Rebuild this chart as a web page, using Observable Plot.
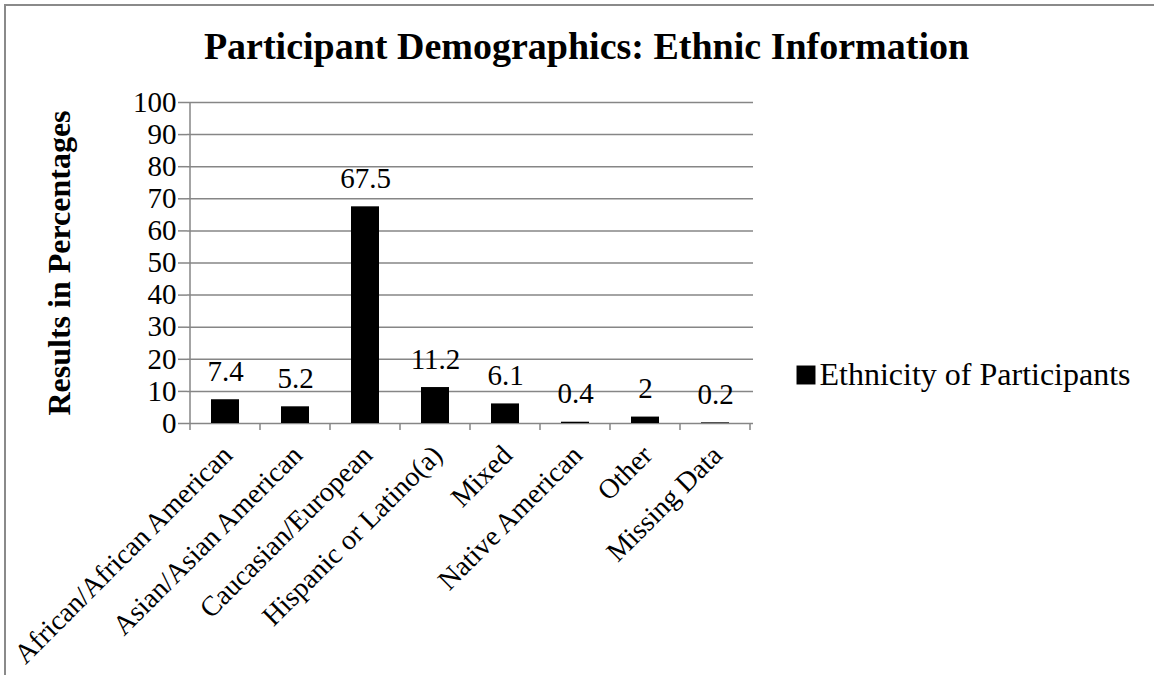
<!DOCTYPE html>
<html>
<head>
<meta charset="utf-8">
<script src="https://cdn.jsdelivr.net/npm/d3@7"></script>
<script src="https://cdn.jsdelivr.net/npm/@observablehq/plot@0.6"></script>
<style>
  html, body { margin: 0; padding: 0; background: #fff; }
  #chart { position: relative; width: 1154px; height: 675px; overflow: hidden; }
  #chart svg { position: absolute; left: 0; top: 0; }
  #chart .edge { position: absolute; left: 4px; top: 4px; width: 1200px; height: 720px;
                 border: 2px solid #8a8a8a; box-sizing: border-box; pointer-events: none; }
</style>
</head>
<body>
<div id="chart"></div>
<script>
// Ethnic breakdown of participants, in percent
const categories = [
  "African/African American",
  "Asian/Asian American",
  "Caucasian/European",
  "Hispanic or Latino(a)",
  "Mixed",
  "Native American",
  "Other",
  "Missing Data"
];
const values = [7.4, 5.2, 67.5, 11.2, 6.1, 0.4, 2, 0.2];
const yTicks = [0, 10, 20, 30, 40, 50, 60, 70, 80, 90, 100];

const seriesName = "Ethnicity of Participants";
const chartTitle = "Participant Demographics: Ethnic Information";
const yTitle = "Results in Percentages";

const rows = categories.map((category, i) => ({category, value: values[i]}));

const gray = "#868686";
const serif = "'Liberation Serif', 'Times New Roman', Times, serif";

const plot = Plot.plot({
  width: 1154,
  height: 675,
  marginLeft: 187,
  marginRight: 401,
  marginTop: 102,
  marginBottom: 252,
  style: {fontFamily: serif, color: "#000", background: "transparent"},
  x: {domain: categories, paddingInner: 0.6, paddingOuter: 0.3},
  y: {domain: [0, 100]},
  marks: [
    Plot.gridY(yTicks, {stroke: gray, strokeOpacity: 1, strokeWidth: 1.5}),
    Plot.axisY(yTicks, {tickSize: 9, tickPadding: 2, fontSize: 29, label: null,
                        stroke: gray, strokeWidth: 1.5, tickFormat: d => String(d)}),
    Plot.axisX({tickRotate: -45, tickSize: 0, tickPadding: 27, dx: 2, fontSize: 28, label: null}),
    Plot.barY(rows, {x: "category", y: "value", fill: "#000"}),
    Plot.text(rows, {x: "category", y: "value", text: d => String(d.value),
                     lineAnchor: "bottom", dy: -19, fontSize: 29}),
    // title
    Plot.text([chartTitle], {text: d => d, frameAnchor: "top", dx: 116, dy: -44,
                             lineAnchor: "bottom", fontSize: 38, fontWeight: "bold"}),
    // y axis title
    Plot.text([yTitle], {text: d => d, frameAnchor: "left", textAnchor: "middle",
                         rotate: -90, dx: -128, fontSize: 32, fontWeight: "bold"}),
    // legend
    Plot.dot([seriesName], {frameAnchor: "right", symbol: "square", r: 10.7,
                            fill: "#000", stroke: null, dx: 52.5, dy: 112}),
    Plot.text([seriesName], {text: d => d, frameAnchor: "right", textAnchor: "start",
                             lineAnchor: "bottom", dx: 66, dy: 122, fontSize: 32})
  ]
});

// vertical axis line and category boundary ticks, placed with the plot's own scales
const xs = plot.scale("x");
const ys = plot.scale("y");
const gap = (xs.step - xs.bandwidth) / 2;
const edges = categories.map(c => xs.apply(c) - gap);
edges.push(edges[edges.length - 1] + xs.step);
const y0 = ys.apply(0), y100 = ys.apply(100);
const g = d3.select(plot).append("g").attr("stroke", gray).attr("stroke-width", 1.5);
g.append("line").attr("x1", edges[0]).attr("x2", edges[0]).attr("y1", y100).attr("y2", y0);
g.selectAll(".edge-tick").data(edges).join("line")
  .attr("class", "edge-tick")
  .attr("x1", d => d).attr("x2", d => d)
  .attr("y1", y0).attr("y2", y0 + 7);

const host = document.getElementById("chart");
host.appendChild(plot);
const border = document.createElement("div");
border.className = "edge";
host.appendChild(border);
</script>
</body>
</html>
